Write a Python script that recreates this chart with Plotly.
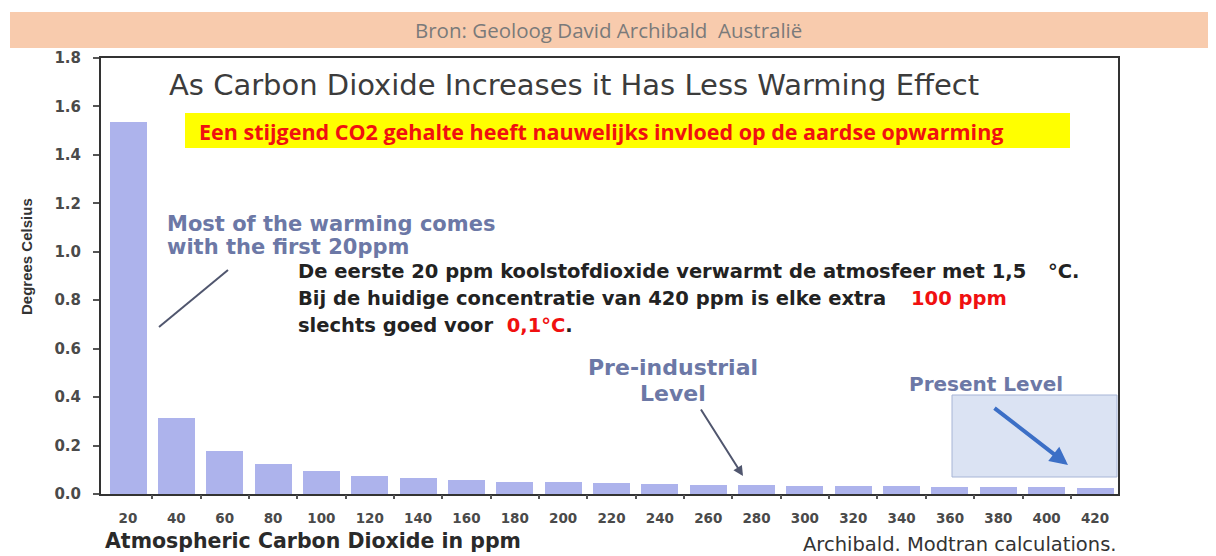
import plotly.graph_objects as go

# ---- data ----
co2_ppm = [20, 40, 60, 80, 100, 120, 140, 160, 180, 200, 220,
           240, 260, 280, 300, 320, 340, 360, 380, 400, 420]
warming_c = [1.534, 0.313, 0.179, 0.124, 0.096, 0.075, 0.066, 0.058, 0.051, 0.048, 0.047,
             0.040, 0.037, 0.038, 0.035, 0.033, 0.032, 0.030, 0.030, 0.028, 0.025]
y_ticks = [0.0, 0.2, 0.4, 0.6, 0.8, 1.0, 1.2, 1.4, 1.6, 1.8]
minor_x_ticks = [30 + 20 * i for i in range(20)]

# page has an 8px body margin, so the figure is drawn 8px in from the window edge
OFF = 8
W, H = 1216 - OFF, 556 - OFF
L, R, T, B = 101, 1118, 58, 494   # plot area in window pixels

def px(x):
    return (x - L) / (R - L)

def py(y):
    return (B - y) / (B - T)

SLATE = "#6c78a6"
DARK = "#3c3c3c"
RED = "#f01010"

fig = go.Figure()
fig.add_trace(go.Bar(x=co2_ppm, y=warming_c, width=15.3,
                     marker=dict(color="#adb3ec", line=dict(width=0)),
                     hoverinfo="x+y", showlegend=False))
# invisible trace that carries the between-bar tick axis
fig.add_trace(go.Scatter(x=[co2_ppm[0]], y=[0], xaxis="x2", mode="markers",
                         marker=dict(opacity=0), showlegend=False, hoverinfo="skip"))

xr = [8.83, 429.5]
fig.update_layout(
    width=W, height=H,
    margin=dict(l=L - OFF, r=W - (R - OFF), t=T - OFF, b=H - (B - OFF), pad=0),
    paper_bgcolor="white", plot_bgcolor="white",
    bargap=0,
    xaxis=dict(range=xr, tickvals=co2_ppm, ticktext=[str(v) for v in co2_ppm],
               showline=True, linecolor="#333", linewidth=2, mirror=True,
               ticks="", showgrid=False, zeroline=False,
               tickfont=dict(family="DejaVu Sans", size=13.5, color="#4a4a4a", weight="bold"),
               ticklabelstandoff=11),
    xaxis2=dict(range=xr, overlaying="x", tickvals=minor_x_ticks, showticklabels=False,
                ticks="outside", ticklen=4, tickwidth=2, tickcolor="#555",
                showline=False, showgrid=False, zeroline=False),
    yaxis=dict(range=[0, 1.8], tickvals=y_ticks, tickformat=".1f",
               showline=True, linecolor="#333", linewidth=2, mirror=True,
               ticks="outside", ticklen=6, tickwidth=2, tickcolor="#555",
               showgrid=False, zeroline=False,
               tickfont=dict(family="DejaVu Sans", size=15, color="#4a4a4a", weight="bold"),
               ticklabelstandoff=9),
)

shapes = []
# header band
shapes.append(dict(type="rect", xref="paper", yref="paper",
                   x0=px(10), x1=px(1216), y0=py(48), y1=py(12),
                   fillcolor="#f8cbad", line=dict(width=0), layer="below"))
# yellow box
shapes.append(dict(type="rect", xref="paper", yref="paper",
                   x0=px(185), x1=px(1070), y0=py(148), y1=py(113),
                   fillcolor="#ffff00", line=dict(width=0), layer="above"))
# present level box
shapes.append(dict(type="rect", xref="paper", yref="paper",
                   x0=px(952), x1=px(1117), y0=py(477), y1=py(395),
                   fillcolor="#dbe3f3", line=dict(width=1, color="#a7b5d6"), layer="above"))
# line pointing at first bar
shapes.append(dict(type="line", xref="paper", yref="paper",
                   x0=px(228), y0=py(270), x1=px(159), y1=py(327),
                   line=dict(color="#50566e", width=2)))
fig.update_layout(shapes=shapes)

def txt(text, x, y, font, xanchor="center", **kw):
    d = dict(text=text, xref="paper", yref="paper", x=px(x), y=py(y),
             xanchor=xanchor, yanchor="middle", showarrow=False, font=font)
    d.update(kw)
    return d

ann = []
ann.append(txt("Bron: Geoloog David Archibald  Australië", 608, 30,
               dict(family="Open Sans", size=20.5, color="#7a7a7a")))
ann.append(txt("As Carbon Dioxide Increases it Has Less Warming Effect", 574, 85,
               dict(family="DejaVu Sans", size=29, color=DARK)))
ann.append(txt("Een stijgend CO2 gehalte heeft nauwelijks invloed op de aardse opwarming", 601, 131,
               dict(family="Open Sans", size=21.5, color=RED, weight="bold")))
sl = dict(family="DejaVu Sans", size=21, color=SLATE, weight="bold")
ann.append(txt("Most of the warming comes", 165, 224, sl, xanchor="left"))
ann.append(txt("with the first 20ppm", 165, 247, sl, xanchor="left"))
# Dutch explanation
bf = dict(family="DejaVu Sans", size=19.5, color="#222222", weight="bold")
ann.append(txt("De eerste 20 ppm koolstofdioxide verwarmt de atmosfeer met 1,5", 296, 271, bf,
               xanchor="left"))
ann.append(txt("°C.", 1046, 271, bf, xanchor="left"))
ann.append(txt("Bij de huidige concentratie van 420 ppm is elke extra", 296, 298, bf,
               xanchor="left"))
ann.append(txt("100 ppm", 909, 298, dict(bf, color=RED), xanchor="left"))
ann.append(txt("slechts goed voor\u00a0\u00a0<span style='color:#f01010'>0,1°C</span>.", 296, 325, bf,
               xanchor="left"))
pl = dict(family="DejaVu Sans", size=22, color=SLATE, weight="bold")
ann.append(txt("Pre-industrial", 673, 367, pl))
ann.append(txt("Level", 673, 393, pl))
ann.append(dict(text="", xref="paper", yref="paper", x=px(743), y=py(476),
                ax=700 - 743, ay=408 - 476, showarrow=True, arrowhead=2, arrowsize=1,
                arrowwidth=2, arrowcolor="#50566e"))
ann.append(txt("Present Level", 986, 384,
               dict(family="DejaVu Sans", size=20, color=SLATE, weight="bold")))
ann.append(dict(text="", xref="paper", yref="paper", x=px(1068), y=py(465),
                ax=993 - 1068, ay=407 - 465, showarrow=True, arrowhead=2, arrowsize=0.9,
                arrowwidth=4, arrowcolor="#3c6fc6"))
ann.append(txt("Degrees Celsius", 26, 257,
               dict(family="Liberation Sans", size=15, color="#333", weight="bold"),
               textangle=-90))
ann.append(txt("Atmospheric Carbon Dioxide in ppm", 103, 541,
               dict(family="DejaVu Sans", size=20.5, color="#2a2a2a", weight="bold"),
               xanchor="left"))
ann.append(txt("Archibald. Modtran calculations.", 801, 544,
               dict(family="DejaVu Sans", size=19.5, color="#333"), xanchor="left"))
fig.update_layout(annotations=ann)

fig.write_html("out.html")
